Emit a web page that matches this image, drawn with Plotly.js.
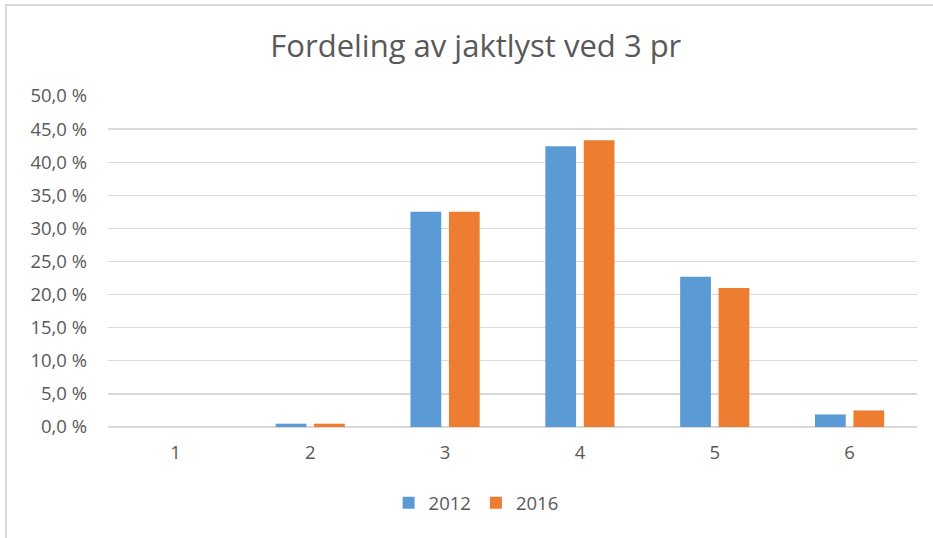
<!DOCTYPE html>
<html>
<head>
<meta charset="utf-8">
<script src="https://cdn.plot.ly/plotly-3.0.1.min.js"></script>
<style>
html,body{margin:0;padding:0;background:#fff;}
#wrap{position:relative;width:933px;height:538px;}
#chart{width:933px;height:538px;}
.bl{position:absolute;left:5px;top:4px;width:2px;height:534px;background:#d9d9d9;}
.bt{position:absolute;left:5px;top:4px;width:928px;height:2px;background:#d9d9d9;}
</style>
</head>
<body>
<div id="wrap">
<div id="chart"></div>
<div class="bl"></div>
<div class="bt"></div>
</div>
<script>
var categories = ["1", "2", "3", "4", "5", "6"];
var values2012 = [0.0, 0.5, 32.5, 42.4, 22.7, 1.9];
var values2016 = [0.0, 0.5, 32.5, 43.3, 21.0, 2.5];
var seriesNames = ["2012", "2016"];
var yTicks = [0, 5, 10, 15, 20, 25, 30, 35, 40, 45, 50];
var yTickText = yTicks.map(function (v) { return v.toFixed(1).replace(".", ",") + " %"; });

var font = "Open Sans, Liberation Sans, sans-serif";
var traces = [
  {type: "bar", x: categories, y: values2012, name: seriesNames[0], marker: {color: "#5B9BD5", line: {width: 0}}},
  {type: "bar", x: categories, y: values2016, name: seriesNames[1], marker: {color: "#ED7D31", line: {width: 0}}}
];
var layout = {
  width: 933, height: 538,
  margin: {l: 108, r: 16, t: 96, b: 111},
  paper_bgcolor: "#fff", plot_bgcolor: "#fff",
  title: {text: "Fordeling av jaktlyst ved 3 pr", x: 0.51, xanchor: "center", y: 0.915, yanchor: "middle",
          font: {family: font, size: 31, color: "#595959"}},
  barmode: "group", bargap: 0.43, bargroupgap: 0.2,
  xaxis: {type: "category", tickfont: {family: font, size: 18.5, color: "#595959"},
          showline: false, ticks: "", showgrid: false, zeroline: false, ticklabelstandoff: 12},
  yaxis: {range: [0, 50], tickmode: "array", tickvals: yTicks, ticktext: yTickText,
          tickfont: {family: font, size: 18.5, color: "#595959"},
          showgrid: true, gridcolor: "#d9d9d9", gridwidth: 1.3, zeroline: true, zerolinecolor: "#d9d9d9", zerolinewidth: 1.5,
          showline: false, ticks: "", ticklabelstandoff: 20, fixedrange: true},
  showlegend: true,
  legend: {orientation: "h", x: 0.455, xanchor: "center", y: -0.23, yanchor: "middle",
           font: {family: font, size: 18.5, color: "#595959"}, itemwidth: 30, traceorder: "normal"}
};
Plotly.newPlot("chart", traces, layout, {displayModeBar: false, staticPlot: true});
</script>
</body>
</html>
